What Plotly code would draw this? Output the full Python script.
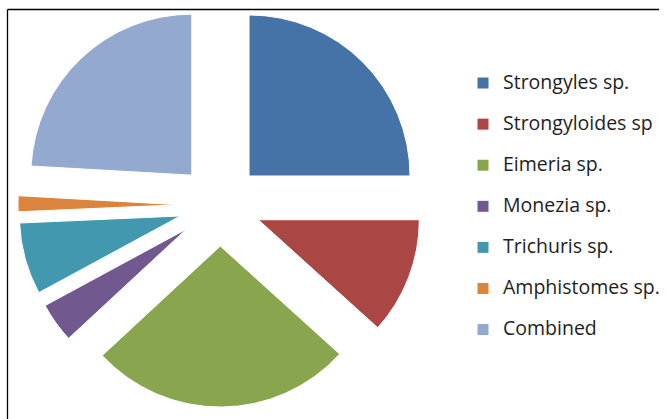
import plotly.graph_objects as go

categories = ["Strongyles sp.", "Strongyloides sp", "Eimeria sp.", "Monezia sp.",
              "Trichuris sp.", "Amphistomes sp.", "Combined"]
values = [25.0, 11.7, 26.4, 4.0, 7.2, 1.6, 24.1]
colors = ["#4572A7", "#AA4643", "#89A54E", "#71588F", "#4198AF", "#DB843D", "#93A9CF"]

W, H = 669, 419
cx, cy, r, pull = 220, 205, 161, 0.255
half = r * (1 + pull)

legend_labels = [f"<span style='font-size:19.5px'>{c}</span><br> " for c in categories]

fig = go.Figure(go.Pie(
    labels=legend_labels,
    values=values,
    sort=False,
    direction="clockwise",
    rotation=0,
    pull=[pull] * len(values),
    textinfo="none",
    hoverinfo="percent",
    marker=dict(colors=colors, line=dict(color="white", width=1)),
    domain=dict(x=[(cx - half) / W, (cx + half) / W],
                y=[1 - (cy + half) / H, 1 - (cy - half) / H]),
))

fig.update_layout(
    width=W, height=H,
    margin=dict(l=0, r=0, t=0, b=0),
    paper_bgcolor="white",
    plot_bgcolor="white",
    font=dict(family="'Open Sans', sans-serif", color="#1e1e1e"),
    showlegend=True,
    legend=dict(
        x=463 / W, xanchor="left",
        y=1 - 67 / H, yanchor="top",
        font=dict(size=14.65, color="#1e1e1e"),
        valign="top",
        bgcolor="rgba(0,0,0,0)",
    ),
    shapes=[
        dict(type="line", xref="paper", yref="paper",
             x0=7.5 / W, x1=659 / W, y0=1 - 9.5 / H, y1=1 - 9.5 / H,
             line=dict(color="black", width=1.3)),
        dict(type="line", xref="paper", yref="paper",
             x0=7.5 / W, x1=7.5 / W, y0=1 - 9.5 / H, y1=0,
             line=dict(color="black", width=1.3)),
    ],
)

fig.write_html("out.html")
